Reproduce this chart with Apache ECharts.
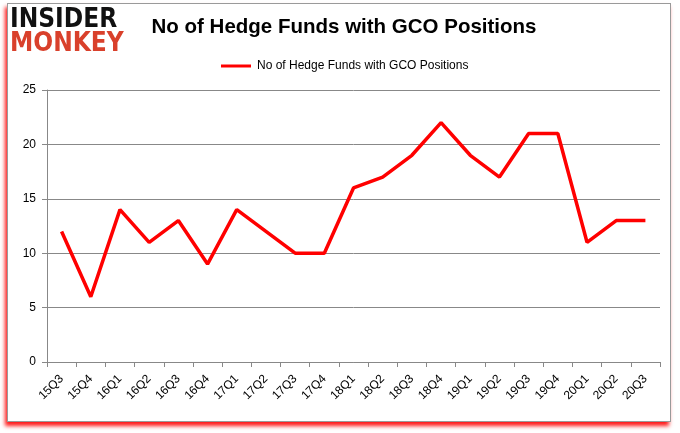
<!DOCTYPE html>
<html><head><meta charset="utf-8">
<script src="https://cdn.jsdelivr.net/npm/echarts@6/dist/echarts.min.js"></script>
<style>
html,body{margin:0;padding:0;background:#fff;}
#wrap{position:relative;width:680px;height:433px;overflow:hidden;}
#frame{position:absolute;left:7px;top:3px;width:662px;height:417px;border:1px solid #9a9a9a;box-shadow:-2px 4px 4px rgba(255,0,0,0.9);background:#fff;}
#chart{position:absolute;left:0;top:0;width:680px;height:433px;}
</style></head>
<body><div id="wrap"><div id="frame"></div><div id="chart"></div></div>
<script>
const categories = ['15Q3','15Q4','16Q1','16Q2','16Q3','16Q4','17Q1','17Q2','17Q3','17Q4','18Q1','18Q2','18Q3','18Q4','19Q1','19Q2','19Q3','19Q4','20Q1','20Q2','20Q3'];
const funds = [12,6,14,11,13,9,14,12,10,10,16,17,19,22,19,17,21,21,11,13,13];
const seriesName = 'No of Hedge Funds with GCO Positions';
const chart = echarts.init(document.getElementById('chart'), null, {renderer:'canvas'});
chart.setOption({
  backgroundColor:'transparent',
  animation:false,
  title:{text:'No of Hedge Funds with GCO Positions',left:339,textAlign:'center',top:12,
    textStyle:{fontFamily:'Liberation Sans',fontWeight:'bold',fontSize:20.5,color:'#000'}},
  graphic:[
    {type:'text',left:10,top:7,style:{text:'INSIDER',font:'bold 26px "DejaVu Sans Condensed"',fill:'#111'}},
    {type:'text',left:10,top:31,style:{text:'MONKEY',font:'bold 26px "DejaVu Sans Condensed"',fill:'#d9402b'}}
  ],
  legend:{data:[seriesName],top:55,left:216,itemWidth:30,itemHeight:3,itemGap:0,icon:'rect',
    textStyle:{fontFamily:'Liberation Sans',fontSize:12,color:'#000',padding:[0,0,0,1]}},
  grid:{left:47,right:20,top:90,bottom:71},
  xAxis:{type:'category',data:categories,boundaryGap:true,
    axisLine:{lineStyle:{color:'#888',width:1}},
    axisTick:{show:true,alignWithLabel:false,length:5,lineStyle:{color:'#888'}},
    axisLabel:{rotate:45,fontFamily:'Liberation Sans',fontSize:12,color:'#000',margin:15,interval:0}},
  yAxis:{type:'value',min:0,max:25,interval:5,
    axisLine:{show:true,lineStyle:{color:'#888'}},
    axisTick:{show:true,length:5,lineStyle:{color:'#888'}},
    splitLine:{lineStyle:{color:'#888',width:1}},
    axisLabel:{fontFamily:'Liberation Sans',fontSize:12,color:'#000',margin:11}},
  series:[{name:seriesName,type:'line',data:funds,showSymbol:false,symbol:'none',
    lineStyle:{color:'#ff0000',width:3.5},itemStyle:{color:'#ff0000'}}]
});
</script></body></html>
